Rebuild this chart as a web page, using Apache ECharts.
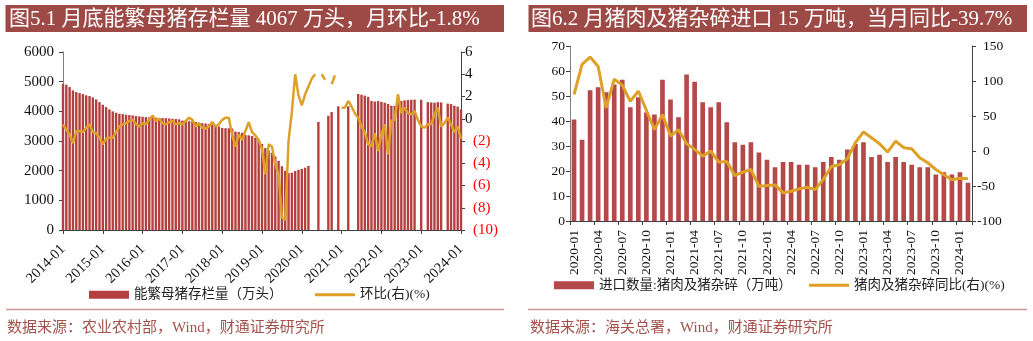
<!DOCTYPE html>
<html><head><meta charset="utf-8">
<script src="https://cdn.jsdelivr.net/npm/echarts@6/dist/echarts.min.js"></script>
<style>html,body{margin:0;padding:0;background:#fff}#c{width:1033px;height:341px}</style>
</head><body><div id="c"></div>
<script>
// ---------- data: left chart (sow inventory) ----------
const sowMonths = [
'2014-01','2014-02','2014-03','2014-04','2014-05','2014-06','2014-07','2014-08','2014-09','2014-10','2014-11','2014-12',
'2015-01','2015-02','2015-03','2015-04','2015-05','2015-06','2015-07','2015-08','2015-09','2015-10','2015-11','2015-12',
'2016-01','2016-02','2016-03','2016-04','2016-05','2016-06','2016-07','2016-08','2016-09','2016-10','2016-11','2016-12',
'2017-01','2017-02','2017-03','2017-04','2017-05','2017-06','2017-07','2017-08','2017-09','2017-10','2017-11','2017-12',
'2018-01','2018-02','2018-03','2018-04','2018-05','2018-06','2018-07','2018-08','2018-09','2018-10','2018-11','2018-12',
'2019-01','2019-02','2019-03','2019-04','2019-05','2019-06','2019-07','2019-08','2019-09','2019-10','2019-11','2019-12',
'2020-01','2020-02','2020-03','2020-04','2020-05','2020-06','2020-07','2020-08','2020-09','2020-10','2020-11','2020-12',
'2021-01','2021-02','2021-03','2021-04','2021-05','2021-06','2021-07','2021-08','2021-09','2021-10','2021-11','2021-12',
'2022-01','2022-02','2022-03','2022-04','2022-05','2022-06','2022-07','2022-08','2022-09','2022-10','2022-11','2022-12',
'2023-01','2023-02','2023-03','2023-04','2023-05','2023-06','2023-07','2023-08','2023-09','2023-10','2023-11','2023-12',
'2024-01'];
const sowInventory = [
4930,4897,4818,4706,4650,4616,4582,4538,4515,4470,4402,4312,
4222,4144,4065,3998,3953,3919,3908,3886,3874,3863,3841,3829,
3818,3805,3795,3790,3785,3780,3775,3770,3760,3750,3740,3730,
3690,3680,3670,3660,3640,3620,3600,3590,3570,3550,3520,3490,
3440,3430,3430,3420,3320,3300,3280,3200,3190,3170,3110,3050,
2900,2760,2680,2600,2480,2330,2150,1990,1920,1930,1990,2030,
2060,2100,2160,null,null,3640,null,null,3850,3975,null,4170,
null,null,4170,null,null,4583,4560,4530,4490,4350,4330,4350,
4320,4290,4250,4190,4185,4300,4350,4370,4380,4390,4395,null,
4390,null,4310,4300,4290,4310,4300,null,4260,4245,4190,4160,
4067];
const sowMoM = [
-0.5,-1.0,-1.4,-2.2,-1.1,-1.1,-1.2,-0.8,-0.5,-1.2,-1.3,-1.7,
-2.3,-1.8,-1.7,-1.7,-1.2,-0.7,-0.5,-0.4,-0.2,-0.1,-0.5,-0.7,
-0.4,-0.5,-0.1,0.3,-0.2,0.0,-0.4,-0.5,-0.3,-0.2,-0.5,-0.4,
-0.5,-0.2,0.1,-0.1,-0.7,-0.4,-0.8,-0.9,-0.7,-0.3,-0.7,-0.5,
-0.1,0.1,0.1,-1.5,-2.5,-1.4,-1.9,-1.1,-0.3,-1.2,-1.5,-1.9,
-2.7,-5.0,-2.3,-2.5,-4.1,-5.0,-8.9,-9.1,-2.0,0.6,4.0,2.1,
1.2,2.2,2.9,3.6,4.0,null,4.0,3.5,null,3.1,3.9,null,
1.0,1.0,1.6,1.1,0.5,0.1,-0.7,-1.2,-2.3,-2.5,-1.3,-2.9,
-1.4,-0.5,-3.2,-0.2,-0.1,2.2,0.5,1.0,0.5,0.4,0.7,-0.1,
-0.7,-0.8,-0.5,-0.5,0.4,1.0,-0.7,-0.4,0.1,-0.5,-1.2,-0.7,
-1.8];

// ---------- data: right chart (pork imports) ----------
const importMonths = [
'2020-01','2020-02','2020-03','2020-04','2020-05','2020-06','2020-07','2020-08','2020-09','2020-10','2020-11','2020-12',
'2021-01','2021-02','2021-03','2021-04','2021-05','2021-06','2021-07','2021-08','2021-09','2021-10','2021-11','2021-12',
'2022-01','2022-02','2022-03','2022-04','2022-05','2022-06','2022-07','2022-08','2022-09','2022-10','2022-11','2022-12',
'2023-01','2023-02','2023-03','2023-04','2023-05','2023-06','2023-07','2023-08','2023-09','2023-10','2023-11','2023-12',
'2024-01','2024-02'];
const porkImport = [
40.6,32.5,52.3,53.5,51.5,54.6,56.5,45.5,49.5,43.4,42.6,56.5,
48.6,41.5,58.6,55.7,47.5,45.5,47.5,39.5,31.5,30.5,31.5,27.4,
24.5,21.5,23.6,23.6,22.5,22.5,21.5,23.6,25.6,24.5,28.6,30.8,
31.5,25.6,26.5,23.6,25.6,23.6,22.5,21.5,21.5,18.6,19.5,18.6,
19.5,15.3];
const porkYoY = [
80.7,123.7,134.2,120.8,61.6,102.7,94,71,85.5,58.2,30.5,52,
21.4,30.5,10.4,2.3,-7.3,0,-15.9,-14.9,-35,-30.2,-26.4,-50.8,
-49.3,-48.4,-59.8,-57.5,-54.1,-51.7,-55.1,-40.7,-22.1,-19.7,-11.1,11.9,
27.2,19,10.4,-1.5,14.2,4.7,3.2,-9.7,-16.8,-26.4,-34,-41.2,
-38.8,-39.7];

// ---------- text ----------
const titleLeft = '图5.1 月底能繁母猪存栏量 4067 万头，月环比-1.8%';
const titleRight = '图6.2 月猪肉及猪杂碎进口 15 万吨，当月同比-39.7%';
const sourceLeft = '数据来源：农业农村部，Wind，财通证券研究所';
const sourceRight = '数据来源：海关总署，Wind，财通证券研究所';
const nameSow = '能繁母猪存栏量（万头）';
const nameMoM = '环比(右)(%)';
const nameImport = '进口数量:猪肉及猪杂碎（万吨）';
const nameYoY = '猪肉及猪杂碎同比(右)(%)';

const SERIF = "'Liberation Serif','Noto Sans CJK SC',serif";
const BAR = '#B3403F', BAR2 = '#B4494A', GOLD = '#DFA028', AX = '#404040';
const lineIcon = 'path://M0,0H40V3H0Z';

const chart = echarts.init(document.getElementById('c'), null, {renderer:'canvas'});
const axisCommon = {axisLine:{show:true,onZero:false,lineStyle:{color:AX,width:1}},
  axisTick:{show:true,length:4,lineStyle:{color:AX}}, splitLine:{show:false}};
function legendItem(left, top, name, icon, color){
  return {left:left, top:top, itemWidth:40, itemHeight:8, selectedMode:false, padding:0,
    data:[{name:name, icon:icon, itemStyle:{color:color}}],
    textStyle:{fontSize:13.5, fontFamily:SERIF, color:'#222'}};
}
const plain = function(v){return String(v);};
const option = {
  animation:false,
  backgroundColor:'#fff',
  grid:[{left:63, top:52, right:572, bottom:111},{left:570, top:46, right:61, bottom:120}],
  legend:[
    legendItem(89, 288, nameSow, 'rect', BAR),
    legendItem(315, 288, nameMoM, lineIcon, GOLD),
    legendItem(554, 278.5, nameImport, 'rect', BAR2),
    legendItem(809, 278.5, nameYoY, lineIcon, GOLD)
  ],
  xAxis:[
    Object.assign({type:'category', gridIndex:0, data:sowMonths, boundaryGap:false}, axisCommon, {
      axisTick:{show:true,interval:11,length:4,lineStyle:{color:AX}},
      axisLabel:{interval:11, rotate:45, margin:17, color:'#111', fontSize:14.5, fontFamily:SERIF, hideOverlap:false}}),
    Object.assign({type:'category', gridIndex:1, data:importMonths, boundaryGap:true}, axisCommon, {
      axisTick:{show:true,interval:2,length:4,lineStyle:{color:AX}},
      axisLabel:{interval:2, rotate:90, margin:9, color:'#111', fontSize:13.5, fontFamily:SERIF, hideOverlap:false}})
  ],
  yAxis:[
    Object.assign({type:'value', gridIndex:0, position:'left', min:0, max:6000, interval:1000}, axisCommon, {
      axisLine:{show:true,lineStyle:{color:'#808080'}},
      axisLabel:{margin:9, color:'#111', fontSize:15, fontFamily:SERIF, formatter:plain}}),
    Object.assign({type:'value', gridIndex:0, position:'right', min:-10, max:6, interval:2}, axisCommon, {
      axisLabel:{margin:4, fontSize:15, fontFamily:SERIF,
        formatter:function(v){return v<0 ? '{n|('+(-v)+')}' : '{p|'+v+'}';},
        rich:{n:{color:'#FF0000',fontSize:15,fontFamily:SERIF,padding:[0,0,0,8]},
              p:{color:'#111',fontSize:15,fontFamily:SERIF}}}}),
    Object.assign({type:'value', gridIndex:1, position:'left', min:0, max:70, interval:10}, axisCommon, {
      axisLine:{show:true,lineStyle:{color:'#808080'}},
      axisLabel:{margin:5, color:'#111', fontSize:13.5, fontFamily:SERIF, formatter:plain}}),
    Object.assign({type:'value', gridIndex:1, position:'right', min:-100, max:150, interval:50}, axisCommon, {
      axisLabel:{margin:5, fontSize:13.5, fontFamily:SERIF,
        formatter:function(v){return v<0 ? '{n|'+v+'}' : '{p|'+v+'}';},
        rich:{n:{color:'#111',fontSize:13.5,fontFamily:SERIF},
              p:{color:'#111',fontSize:13.5,fontFamily:SERIF,padding:[0,0,0,6]}}}})
  ],
  series:[
    {name:nameSow, type:'bar', xAxisIndex:0, yAxisIndex:0, data:sowInventory, barWidth:2.4,
     itemStyle:{color:BAR}},
    {name:nameMoM, type:'line', xAxisIndex:0, yAxisIndex:1, data:sowMoM, symbol:'none', showSymbol:false,
     connectNulls:false, lineStyle:{width:2.5,color:GOLD}, itemStyle:{color:GOLD}, z:5},
    {name:nameImport, type:'bar', xAxisIndex:1, yAxisIndex:2, data:porkImport, barWidth:'58%',
     itemStyle:{color:BAR2}},
    {name:nameYoY, type:'line', xAxisIndex:1, yAxisIndex:3, data:porkYoY, symbol:'none', showSymbol:false,
     lineStyle:{width:3,color:GOLD}, itemStyle:{color:GOLD}, z:5}
  ],
  graphic:[
    {type:'rect', shape:{x:5.5,y:5,width:498.5,height:27}, style:{fill:'#9D4A46'}},
    {type:'text', x:9, y:19, style:{text:titleLeft, fill:'#fff', fontSize:21, fontFamily:SERIF, verticalAlign:'middle'}},
    {type:'rect', shape:{x:528.5,y:5,width:498.5,height:27}, style:{fill:'#9D4A46'}},
    {type:'text', x:531, y:19, style:{text:titleRight, fill:'#fff', fontSize:21, fontFamily:SERIF, verticalAlign:'middle'}},
    {type:'line', shape:{x1:6,y1:309.5,x2:504,y2:309.5}, style:{stroke:'#C99893',lineWidth:1.5}},
    {type:'line', shape:{x1:528,y1:309.5,x2:1027,y2:309.5}, style:{stroke:'#C99893',lineWidth:1.5}},
    {type:'text', x:7, y:328, style:{text:sourceLeft, fill:'#A4514C', fontSize:15, fontFamily:SERIF, verticalAlign:'middle'}},
    {type:'text', x:530, y:328, style:{text:sourceRight, fill:'#A4514C', fontSize:15, fontFamily:SERIF, verticalAlign:'middle'}}
  ]
};
chart.setOption(option);
</script></body></html>
